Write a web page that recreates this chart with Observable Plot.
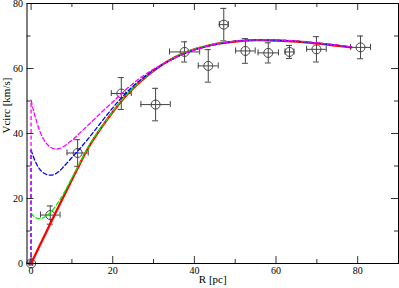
<!DOCTYPE html>
<html><head><meta charset="utf-8">
<script src="https://cdn.jsdelivr.net/npm/d3@7"></script>
<script src="https://cdn.jsdelivr.net/npm/@observablehq/plot@0.6"></script>
<style>body{margin:0;background:#fff}</style>
</head><body><div id="chart"></div>
<script>
// Observed rotation curve points
const obsR    = [0, 4.7, 11.4, 22.1, 30.5, 37.6, 43.4, 47.2, 52.5, 58.1, 63.3, 69.9, 80.7];
const obsV    = [0, 14.9, 34.0, 52.3, 48.9, 65.1, 60.8, 73.5, 65.4, 64.8, 65.1, 65.9, 66.5];
const obsRerr = [0.3, 2.4, 2.6, 2.45, 3.6, 3.7, 2.45, 1.1, 2.4, 2.5, 1.1, 2.4, 2.45];
const obsVerr = [0.4, 2.8, 4.1, 4.9, 5.0, 3.1, 5.0, 5.0, 3.8, 3.1, 2.0, 3.9, 3.5];

// Model curves
const redR = [0,2,4,6,8,10,12,14,16,18,20,22,24,26,28,31,34,37,40,43,46,50,55,60,65,70,75,78.5];
const redV = [0,5.2,10.4,15.6,20.7,25.8,30.8,35.6,39.6,43.2,46.6,49.8,52.6,55.1,57.3,60.2,62.6,64.5,65.9,66.9,67.7,68.3,68.7,68.6,68.3,67.7,67.0,66.5];

const greenR = [0,1,2,3,4,5,6,7,8,9,10,11,12,13,14,16,18,20,22,24,26,28,31,34,37,40,43,46,50,55,60,65,70,75,78.5];
const greenV = [15.4,14.2,13.8,14.1,14.9,16.0,17.6,19.5,21.6,23.9,26.3,28.7,31.1,33.5,35.9,39.8,43.3,46.7,49.9,52.7,55.2,57.4,60.3,62.7,64.6,66.0,67.0,67.8,68.4,68.8,68.7,68.4,67.8,67.1,66.6];

const blueR = [0,1,2,3,4,5,6,7,8,10,12,14,16,18,20,22,24,26,29,32,35,38,41,44,47,50,55,60,65,70,75,78.5];
const blueV = [34.9,31.5,29.2,27.9,27.3,27.2,27.6,28.5,29.8,32.6,35.4,38.4,41.6,44.8,47.9,50.8,53.4,55.7,58.6,61.1,63.1,64.8,66.1,67.1,67.8,68.4,68.8,68.7,68.4,67.8,67.1,66.6];

const magR = [0,0.5,1,2,3,4,5,6,7,8,10,12,14,17,20,22,25,28,31,34,37,40,43,46,50,55,60,65,70,75,78.5];
const magV = [50.2,47.6,45.2,41.2,38.4,36.6,35.6,35.2,35.4,36.0,37.9,40.2,42.6,46.2,49.7,52.1,55.4,58.2,60.5,62.5,64.3,65.7,66.8,67.7,68.4,68.8,68.8,68.5,67.9,67.2,66.6];

const xMajor = [0, 20, 40, 60, 80];
const xMinor = [10, 30, 50, 70];
const yMajor = [0, 20, 40, 60, 80];
const yMinor = [10, 30, 50, 70];

const W = 399, H = 288, mL = 26.5, mR = 1, mT = 3, mB = 25;
const xDom = [-1, 90], yDom = [0, 80];
const xPx = (W - mL - mR) / (xDom[1] - xDom[0]);
const yPx = (H - mT - mB) / (yDom[1] - yDom[0]);

const pts = obsR.map((r, i) => ({r, v: obsV[i], re: obsRerr[i], ve: obsVerr[i]}));
const toRows = (R, V) => R.map((r, i) => ({r, v: V[i]}));
const red = toRows(redR, redV), green = toRows(greenR, greenV), blue = toRows(blueR, blueV), mag = toRows(magR, magV);

const major = 7, minor = 4, cap = 3;
const tickColor = "#333";
const errColor = "#444";
const dash = "4,2.5";

const chart = Plot.plot({
  width: W, height: H,
  marginLeft: mL, marginRight: mR, marginTop: mT, marginBottom: mB,
  x: {domain: xDom},
  y: {domain: yDom},
  style: {fontFamily: "Liberation Serif", fontSize: "10px", background: "#fff", overflow: "visible"},
  marks: [
    // error bars
    Plot.ruleY(pts, {y: "v", x1: d => d.r - d.re, x2: d => d.r + d.re, stroke: errColor}),
    Plot.ruleX(pts, {x: "r", y1: d => d.v - d.ve, y2: d => d.v + d.ve, stroke: errColor}),
    Plot.ruleX(pts, {x: d => d.r - d.re, y1: d => d.v - cap / yPx, y2: d => d.v + cap / yPx, stroke: errColor}),
    Plot.ruleX(pts, {x: d => d.r + d.re, y1: d => d.v - cap / yPx, y2: d => d.v + cap / yPx, stroke: errColor}),
    Plot.ruleY(pts, {y: d => d.v - d.ve, x1: d => d.r - cap / xPx, x2: d => d.r + cap / xPx, stroke: errColor}),
    Plot.ruleY(pts, {y: d => d.v + d.ve, x1: d => d.r - cap / xPx, x2: d => d.r + cap / xPx, stroke: errColor}),
    Plot.dot(pts, {x: "r", y: "v", r: 4.5, stroke: errColor, fill: "none", strokeWidth: 1}),
    // model curves
    Plot.line(red, {x: "r", y: "v", stroke: "#ff0000", strokeWidth: 2.3, curve: "catmull-rom"}),
    Plot.ruleX([green[0]], {x: 0, y1: 0, y2: "v", stroke: "#00ee00", strokeWidth: 1.3, strokeDasharray: dash}),
    Plot.line(green, {x: "r", y: "v", stroke: "#00ee00", strokeWidth: 1.3, strokeDasharray: dash, curve: "catmull-rom"}),
    Plot.ruleX([blue[0]], {x: 0, y1: 0, y2: "v", stroke: "#0000ff", strokeWidth: 1.3, strokeDasharray: dash}),
    Plot.line(blue, {x: "r", y: "v", stroke: "#0000ff", strokeWidth: 1.3, strokeDasharray: dash, curve: "catmull-rom"}),
    Plot.ruleX([mag[0]], {x: 0, y1: 0, y2: "v", stroke: "#ff00ff", strokeWidth: 1.3, strokeDasharray: dash}),
    Plot.line(mag, {x: "r", y: "v", stroke: "#ff00ff", strokeWidth: 1.3, strokeDasharray: dash, curve: "catmull-rom"}),
    // inward ticks, all four sides
    Plot.ruleX(xMajor, {x: d => d, y1: yDom[0], y2: yDom[0] + major / yPx, stroke: tickColor}),
    Plot.ruleX(xMinor, {x: d => d, y1: yDom[0], y2: yDom[0] + minor / yPx, stroke: tickColor}),
    Plot.ruleX(xMajor, {x: d => d, y1: yDom[1], y2: yDom[1] - major / yPx, stroke: tickColor}),
    Plot.ruleX(xMinor, {x: d => d, y1: yDom[1], y2: yDom[1] - minor / yPx, stroke: tickColor}),
    Plot.ruleY(yMajor, {y: d => d, x1: xDom[0], x2: xDom[0] + major / xPx, stroke: tickColor}),
    Plot.ruleY(yMinor, {y: d => d, x1: xDom[0], x2: xDom[0] + minor / xPx, stroke: tickColor}),
    Plot.ruleY(yMajor, {y: d => d, x1: xDom[1], x2: xDom[1] - major / xPx, stroke: tickColor}),
    Plot.ruleY(yMinor, {y: d => d, x1: xDom[1], x2: xDom[1] - minor / xPx, stroke: tickColor}),
    Plot.frame({stroke: "#000"}),
    // tick labels
    Plot.axisX(xMajor, {tickSize: 0, tickPadding: 3.5, label: null, fontSize: 10}),
    Plot.axisY(yMajor, {tickSize: 0, tickPadding: 4, label: null, fontSize: 10}),
    // axis titles
    Plot.text(["R [pc]"], {frameAnchor: "bottom", dy: 19, fontSize: 11, text: d => d}),
    Plot.text(["Vcirc [km/s]"], {frameAnchor: "left", dx: -21, rotate: -90, fontSize: 11, text: d => d})
  ]
});
document.getElementById("chart").appendChild(chart);
</script>
</body></html>
